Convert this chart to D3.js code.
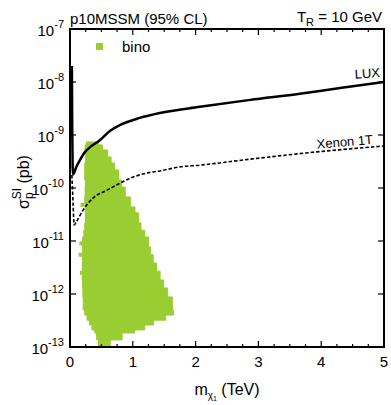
<!DOCTYPE html>
<html><head><meta charset="utf-8">
<script src="https://cdn.jsdelivr.net/npm/d3@7"></script>
<style>
html,body{margin:0;padding:0;background:#fff;}
text{font-family:"Liberation Sans",Arial,Helvetica,sans-serif;fill:#000;}
</style></head>
<body>
<svg id="chart" width="391" height="405"></svg>
<script>
// ---------- data ----------
const xTicks = [0, 1, 2, 3, 4, 5];
const yTickExps = [-7, -8, -9, -10, -11, -12, -13];

// LUX limit (mass in TeV, sigma in pb)
const luxMass  = [0.03, 0.035, 0.042, 0.05, 0.1, 0.16, 0.24, 0.32, 0.48, 0.64, 0.8, 1.11, 1.43, 2.07, 2.87, 3.66, 4.3, 5];
const luxSigma = [2e-8, 1.5e-9, 2.5e-10, 1.8e-10, 2.5e-10, 3.4e-10, 4.8e-10, 5.9e-10, 8.05e-10, 1.2e-9, 1.55e-9, 2.1e-9, 2.6e-9, 3.4e-9, 4.6e-9, 6.0e-9, 7.7e-9, 1e-8];

// Xenon 1T projection
const xenMass  = [0.03, 0.05, 0.065, 0.1, 0.21, 0.37, 0.59, 0.8, 1.0, 1.23, 1.43, 1.75, 2.07, 2.87, 3.93, 5];
const xenSigma = [1.76e-10, 4.8e-11, 2.0e-11, 2.3e-11, 3.85e-11, 6.5e-11, 9.1e-11, 1.24e-10, 1.6e-10, 1.92e-10, 2.1e-10, 2.5e-10, 2.7e-10, 3.5e-10, 4.8e-10, 6.2e-10];

// bino scan points: envelope of the point cloud (sigma row, min mass, max mass)
const binoSigma = [7.4e-10, 6.5e-10, 5.2e-10, 3.85e-10, 2.96e-10, 2.19e-10, 1.42e-10, 1.04e-10, 6.8e-11, 4.4e-11, 3.4e-11, 2.2e-11, 1.6e-11, 1.19e-11, 7.7e-12, 5.5e-12, 3.85e-12, 2.7e-12, 1.84e-12, 1.3e-12, 8.8e-13, 5.0e-13, 4.0e-13, 3.2e-13, 2.6e-13, 2.1e-13, 1.84e-13, 1.36e-13, 1.0e-13];
const binoMmin  = [0.28, 0.24, 0.24, 0.25, 0.24, 0.23, 0.24, 0.25, 0.23, 0.24, 0.25, 0.24, 0.23, 0.21, 0.19, 0.21, 0.19, 0.20, 0.19, 0.21, 0.20, 0.22, 0.25, 0.29, 0.33, 0.37, 0.42, 0.43, 0.48];
const binoMmax  = [0.43, 0.48, 0.56, 0.64, 0.67, 0.75, 0.80, 0.84, 0.92, 1.00, 1.07, 1.11, 1.15, 1.23, 1.27, 1.30, 1.35, 1.41, 1.46, 1.52, 1.59, 1.67, 1.62, 1.43, 1.23, 1.15, 0.91, 0.75, 0.53];
// isolated bino points
const binoPtMass  = [0.20, 0.18, 0.17, 0.19, 0.45, 0.52];
const binoPtSigma = [4.8e-11, 9e-12, 5.5e-12, 2.5e-12, 1.6e-13, 1.2e-13];

// ---------- layout ----------
const L = 70, R = 384, T = 29, B = 347;
const svg = d3.select("#chart");
const green = "#9acd32";

const x = d3.scaleLinear().domain([0, 5]).range([L, R]);
const y = d3.scaleLog().domain([1e-13, 1e-7]).range([B, T]);

// bino region
const bino = binoSigma.map((s, i) => ({s, a: binoMmin[i], b: binoMmax[i]}));
svg.append("path")
  .datum(bino)
  .attr("d", d3.area().y(d => y(d.s)).x0(d => x(d.a)).x1(d => x(d.b)).curve(d3.curveStep))
  .attr("fill", green).attr("stroke", green).attr("stroke-width", 1);
svg.selectAll("rect.bp").data(binoPtMass.map((m, i) => ({m, s: binoPtSigma[i]})))
  .enter().append("rect")
  .attr("x", d => x(d.m) - 2).attr("y", d => y(d.s) - 2)
  .attr("width", 4).attr("height", 4).attr("fill", green);

// curves
const clipId = "clipPlot";
svg.append("clipPath").attr("id", clipId).append("rect")
  .attr("x", L).attr("y", T).attr("width", R - L).attr("height", B - T);

const line = d3.line().x(d => x(d[0])).y(d => y(d[1])).curve(d3.curveMonotoneX);
svg.append("path")
  .datum(luxMass.map((m, i) => [m, luxSigma[i]]))
  .attr("d", line).attr("fill", "none").attr("stroke", "#000").attr("stroke-width", 2.5)
  .attr("clip-path", `url(#${clipId})`);
svg.append("path")
  .datum(xenMass.map((m, i) => [m, xenSigma[i]]))
  .attr("d", line).attr("fill", "none").attr("stroke", "#000").attr("stroke-width", 1.6)
  .attr("stroke-dasharray", "3.5,2").attr("clip-path", `url(#${clipId})`);

// ---------- axes ----------
const minorX = d3.range(0, 5.001, 0.25);
const g = svg.append("g");
minorX.forEach(v => {
  const major = Math.abs(v - Math.round(v)) < 1e-6;
  const len = major ? 6 : 3;
  g.append("line").attr("x1", x(v)).attr("x2", x(v)).attr("y1", B).attr("y2", B - len).attr("stroke", "#000").attr("stroke-width", 1.2);
  g.append("line").attr("x1", x(v)).attr("x2", x(v)).attr("y1", T).attr("y2", T + len).attr("stroke", "#000").attr("stroke-width", 1.2);
});
yTickExps.forEach(e => {
  const v = Math.pow(10, e);
  g.append("line").attr("x1", L).attr("x2", L + 6).attr("y1", y(v)).attr("y2", y(v)).attr("stroke", "#000").attr("stroke-width", 1.2);
  g.append("line").attr("x1", R).attr("x2", R - 6).attr("y1", y(v)).attr("y2", y(v)).attr("stroke", "#000").attr("stroke-width", 1.2);
});
svg.append("rect").attr("x", L).attr("y", T).attr("width", R - L).attr("height", B - T)
  .attr("fill", "none").attr("stroke", "#000").attr("stroke-width", 2);

// tick labels
xTicks.forEach(v => {
  svg.append("text").attr("x", x(v)).attr("y", 367).attr("text-anchor", "middle")
    .attr("font-size", 15).text(v);
});
yTickExps.forEach(e => {
  const t = svg.append("text").attr("x", 64).attr("y", y(Math.pow(10, e)) + 7)
    .attr("text-anchor", "end").attr("font-size", 15);
  t.append("tspan").text("10");
  t.append("tspan").attr("dy", -8).attr("font-size", 11).text("-" + Math.abs(e));
});

// axis titles
const xt = svg.append("text").attr("x", 227).attr("y", 395).attr("text-anchor", "middle").attr("font-size", 16);
xt.append("tspan").text("m");
xt.append("tspan").attr("dy", 4).attr("font-size", 10).text("χ");
xt.append("tspan").attr("dy", 2).attr("font-size", 7).text("1");
xt.append("tspan").attr("dy", -6).text(" (TeV)");

const yt = svg.append("text").attr("transform", "translate(29,182) rotate(-90)").attr("text-anchor", "middle").attr("font-size", 16);
yt.append("tspan").text("σ");
yt.append("tspan").attr("dy", 4).attr("font-size", 12).text("p");
yt.append("tspan").attr("dx", -7).attr("dy", -12).attr("font-size", 12).text("SI");
yt.append("tspan").attr("dy", 8).text(" (pb)");

// titles
svg.append("text").attr("x", 70).attr("y", 24).attr("font-size", 15).text("p10MSSM (95% CL)");
const tr = svg.append("text").attr("x", 382).attr("y", 22).attr("text-anchor", "end").attr("font-size", 15);
tr.append("tspan").text("T");
tr.append("tspan").attr("dy", 4).attr("font-size", 11).text("R");
tr.append("tspan").attr("dy", -4).text(" = 10 GeV");

// legend
svg.append("rect").attr("x", 96).attr("y", 43).attr("width", 7).attr("height", 7).attr("fill", green);
svg.append("text").attr("x", 122).attr("y", 52).attr("font-size", 15).text("bino");

// curve labels
svg.append("text").attr("x", 380).attr("y", 78).attr("text-anchor", "end").attr("font-size", 13)
  .attr("transform", "rotate(-4,366,74)").text("LUX");
svg.append("text").attr("x", 373).attr("y", 146).attr("text-anchor", "end").attr("font-size", 13)
  .attr("transform", "rotate(-5,348,142)").text("Xenon 1T");
</script>
</body></html>
